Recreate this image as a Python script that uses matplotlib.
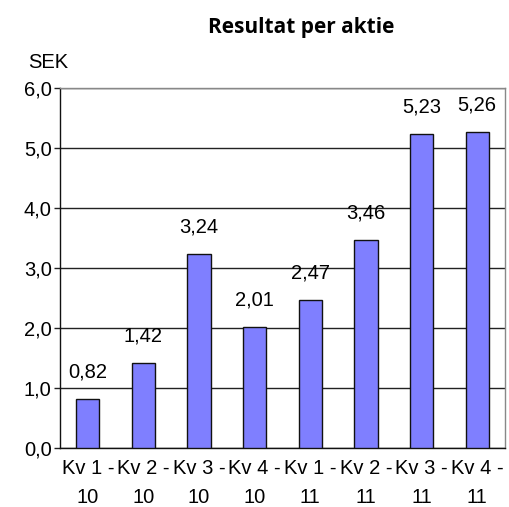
import matplotlib.pyplot as plt
import numpy as np

kvartal = ["Kv 1 -\n10", "Kv 2 -\n10", "Kv 3 -\n10", "Kv 4 -\n10",
           "Kv 1 -\n11", "Kv 2 -\n11", "Kv 3 -\n11", "Kv 4 -\n11"]
resultat = [0.82, 1.42, 3.24, 2.01, 2.47, 3.46, 5.23, 5.26]
yticks = [0.0, 1.0, 2.0, 3.0, 4.0, 5.0, 6.0]

plt.rcParams['font.family'] = ['Liberation Sans', 'DejaVu Sans']
fs = 14.5

fig = plt.figure(figsize=(5.10, 5.07), dpi=100)
ax = fig.add_axes([60 / 510, 1 - 448 / 507, 445 / 510, 360 / 507])

x = np.arange(len(resultat))
ax.bar(x, resultat, width=0.42, color='#7f7fff', edgecolor='#111111',
       linewidth=1.0, zorder=3)
for xi, v in zip(x, resultat):
    ax.text(xi, v + 0.45, f"{v:.2f}".replace('.', ','), ha='center',
            va='center', fontsize=fs)

ax.set_xlim(-0.5, len(resultat) - 0.5)
ax.set_ylim(0, 6)
ax.set_yticks(yticks)
ax.set_yticklabels([f"{t:.1f}".replace('.', ',') for t in yticks],
                   fontsize=fs)
ax.set_xticks(x)
ax.set_xticklabels(kvartal, fontsize=fs, linespacing=1.65)
ax.tick_params(axis='x', length=0, pad=8)
ax.tick_params(axis='y', length=4, width=1, color='#222222', pad=2)
ax.grid(axis='y', color='#222222', linewidth=1.0, zorder=1)

ax.spines['left'].set_color('#111111')
ax.spines['bottom'].set_color('#111111')
ax.spines['top'].set_color('#888888')
ax.spines['right'].set_color('#888888')
for s in ax.spines.values():
    s.set_linewidth(1.0)

fig.text(301 / 510, 1 - 27 / 507, "Resultat per aktie", ha='center',
         va='center', fontsize=15, fontweight='bold', family='Open Sans')
fig.text(28 / 510, 1 - 62 / 507, "SEK", ha='left', va='center',
         fontsize=fs)

fig.savefig("out.png", dpi=100)
